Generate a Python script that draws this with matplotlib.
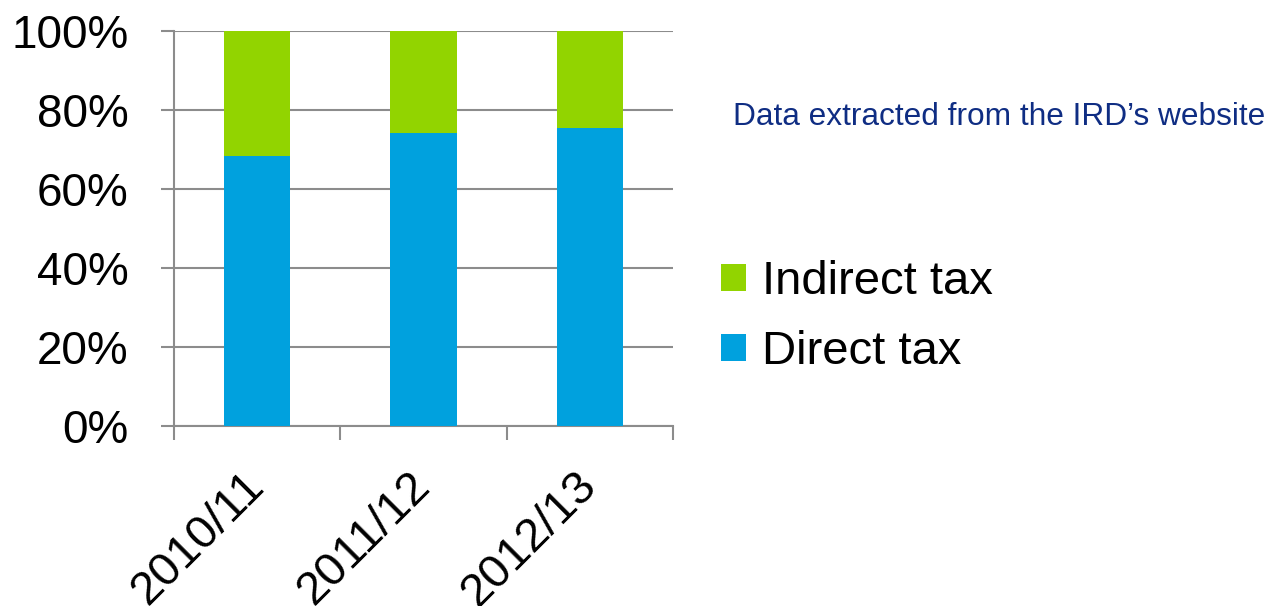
import matplotlib
matplotlib.use("Agg")
import matplotlib.pyplot as plt
import matplotlib.ticker as tick
import numpy as np

# data (percent of total tax)
years = ["2010/11", "2011/12", "2012/13"]
direct_tax = [68.4, 74.1, 75.4]
indirect_tax = [31.6, 25.9, 24.6]

green = "#92D400"
blue = "#00A1DE"
grid_grey = "#8C8C8C"

plt.rcParams['font.family'] = ['Liberation Sans', 'DejaVu Sans']

dpi = 100
fig = plt.figure(figsize=(1270 / dpi, 606 / dpi), dpi=dpi)
ax = fig.add_axes([174 / 1270, 180 / 606, 499 / 1270, 395 / 606])

x = np.arange(len(years))
b_direct = ax.bar(x, direct_tax, width=0.4, color=blue, label="Direct tax", zorder=3)
b_indirect = ax.bar(x, indirect_tax, width=0.4, bottom=direct_tax, color=green,
                    label="Indirect tax", zorder=3)

ax.set_xlim(-0.5, len(years) - 0.5)
ax.set_ylim(0, 100)

# y axis
ax.yaxis.set_major_locator(tick.MultipleLocator(20))
ax.yaxis.set_major_formatter(tick.FuncFormatter(lambda v, pos: "%d%%" % v))
ax.grid(axis='y', color=grid_grey, linewidth=1.5, zorder=0)
ax.tick_params(axis='y', length=9.5, width=1.5, color=grid_grey, labelsize=33, pad=23)

# x axis: labels at centres, tick marks at boundaries
ax.set_xticks(x)
ax.set_xticklabels(years, rotation=45, ha='right', va='center', rotation_mode='anchor')
ax.set_xticks(np.arange(-0.5, len(years)), minor=True)
ax.tick_params(axis='x', which='major', length=0, labelsize=34, pad=38)
ax.tick_params(axis='x', which='minor', length=10, width=1.5, color=grid_grey)

for side in ['top', 'right']:
    ax.spines[side].set_visible(False)
for side in ['left', 'bottom']:
    ax.spines[side].set_color(grid_grey)
    ax.spines[side].set_linewidth(1.5)

# legend
fig.legend(handles=[b_indirect, b_direct], labels=["Indirect tax", "Direct tax"],
           loc='center left', bbox_to_anchor=(721 / 1270, 1 - 317 / 606),
           frameon=False, fontsize=34, handlelength=0.53, handleheight=0.5,
           handletextpad=0.34, labelspacing=0.55, borderpad=0, borderaxespad=0)

fig.text(733 / 1270, 1 - 117 / 606, "Data extracted from the IRD\u2019s website",
         color="#0F2D83", fontsize=22.8, va='center', ha='left')

fig.savefig("out.png", dpi=dpi)
